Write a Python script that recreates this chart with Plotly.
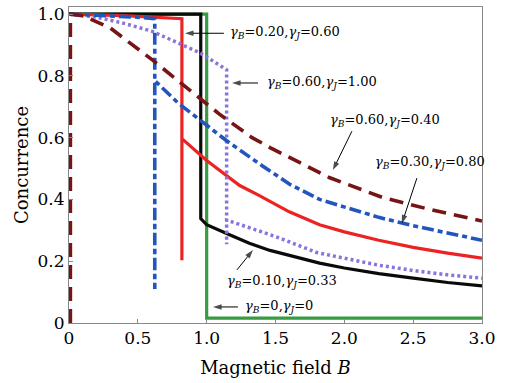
import plotly.graph_objects as go

# ---- data ----
green_x = [0.0, 1.0, 1.0, 3.0]
green_y = [1.0, 1.0, 0.016, 0.016]

black_x = [0.0, 0.5, 0.957, 0.957, 1.0, 1.145, 1.31, 1.46, 1.65, 1.82, 2.0, 2.25, 2.5, 2.75, 3.0]
black_y = [1.0, 1.0, 1.0, 0.338, 0.318, 0.29, 0.258, 0.235, 0.212, 0.194, 0.178, 0.16, 0.145, 0.131, 0.12]

red_x = [0.0, 0.4, 0.82, 0.82, 0.82, 1.0, 1.24, 1.38, 1.6, 1.82, 2.0, 2.25, 2.5, 2.75, 3.0]
red_y = [1.0, 0.995, 0.985, 0.203, 0.597, 0.526, 0.445, 0.413, 0.36, 0.318, 0.295, 0.268, 0.245, 0.226, 0.21]

blue_x = [0.0, 0.3, 0.5, 0.623, 0.623, 0.623, 0.79, 1.0, 1.145, 1.4, 1.6, 1.82, 2.0, 2.25, 2.5, 2.75, 3.0]
blue_y = [1.0, 0.995, 0.99, 0.985, 0.11, 0.785, 0.713, 0.64, 0.59, 0.51, 0.45, 0.40, 0.375, 0.342, 0.315, 0.29, 0.268]

purple_x = [0.0, 0.2, 0.4, 0.6, 0.8, 0.95, 1.145, 1.145, 1.145, 1.3, 1.5, 1.8, 2.0, 2.25, 2.5, 2.75, 3.0]
purple_y = [1.0, 0.99, 0.97, 0.945, 0.905, 0.875, 0.82, 0.255, 0.333, 0.31, 0.28, 0.228, 0.21, 0.187, 0.17, 0.156, 0.145]

darkred_x = [0.01, 0.01, 0.1, 0.3, 0.61, 0.83, 1.09, 1.33, 1.46, 1.89, 2.13, 2.28, 2.6, 3.0]
darkred_y = [0.0, 1.0, 0.995, 0.955, 0.85, 0.77, 0.677, 0.60, 0.568, 0.471, 0.43, 0.406, 0.37, 0.33]

x_ticks = [0, 0.5, 1.0, 1.5, 2.0, 2.5, 3.0]
x_tick_text = ["0", "0.5", "1.0", "1.5", "2.0", "2.5", "3.0"]
y_ticks = [0, 0.2, 0.4, 0.6, 0.8, 1.0]
y_tick_text = ["0", "0.2", "0.4", "0.6", "0.8", "1.0"]

labels = [
    "<i>γ</i><sub><i>B</i></sub>=0.20,<i>γ</i><sub><i>J</i></sub>=0.60",
    "<i>γ</i><sub><i>B</i></sub>=0.60,<i>γ</i><sub><i>J</i></sub>=1.00",
    "<i>γ</i><sub><i>B</i></sub>=0.60,<i>γ</i><sub><i>J</i></sub>=0.40",
    "<i>γ</i><sub><i>B</i></sub>=0.30,<i>γ</i><sub><i>J</i></sub>=0.80",
    "<i>γ</i><sub><i>B</i></sub>=0.10,<i>γ</i><sub><i>J</i></sub>=0.33",
    "<i>γ</i><sub><i>B</i></sub>=0,<i>γ</i><sub><i>J</i></sub>=0",
]
# label anchor positions (data coords), arrow tail and head positions
label_pos = [(1.155, 0.942), (1.424, 0.777), (1.88, 0.657), (2.208, 0.518), (1.133, 0.133), (1.264, 0.052)]
arrow_tail = [(1.125, 0.938), (1.373, 0.777), (2.055, 0.621), (2.527, 0.469), (1.22, 0.172), (1.227, 0.052)]
arrow_head = [(0.842, 0.938), (1.184, 0.777), (1.917, 0.495), (2.418, 0.322), (1.336, 0.236), (1.046, 0.052)]

FONT = "DejaVu Serif"

fig = go.Figure()
fig.add_trace(go.Scatter(x=green_x, y=green_y, mode="lines",
                         line=dict(color="rgb(55,155,65)", width=3.2)))
fig.add_trace(go.Scatter(x=black_x, y=black_y, mode="lines",
                         line=dict(color="rgb(10,10,10)", width=3.2)))
fig.add_trace(go.Scatter(x=red_x, y=red_y, mode="lines",
                         line=dict(color="rgb(235,35,35)", width=3.2)))
fig.add_trace(go.Scatter(x=purple_x, y=purple_y, mode="lines",
                         line=dict(color="rgb(140,115,220)", width=3.5, dash="3px,3px")))
fig.add_trace(go.Scatter(x=blue_x, y=blue_y, mode="lines",
                         line=dict(color="rgb(35,85,190)", width=3.6, dash="12px,4px,5px,4px")))
fig.add_trace(go.Scatter(x=darkred_x, y=darkred_y, mode="lines",
                         line=dict(color="rgb(120,20,20)", width=3.6, dash="14px,8px")))

# arrows as line+arrowhead traces
for (tx, ty), (hx, hy) in zip(arrow_tail, arrow_head):
    fig.add_trace(go.Scatter(x=[tx, hx], y=[ty, hy], mode="lines+markers",
                             line=dict(color="black", width=1),
                             marker=dict(symbol="arrow", size=[0, 9], color="black",
                                         angleref="previous", line=dict(width=0)),
                             hoverinfo="skip"))

annots = []
for txt, (lx, ly) in zip(labels, label_pos):
    annots.append(dict(x=lx, y=ly, xref="x", yref="y", text=txt, showarrow=False,
                       xanchor="left", yanchor="middle",
                       font=dict(family=FONT, size=13, color="black")))

fig.update_layout(
    width=507, height=383,
    margin=dict(l=69, r=25, t=7, b=60),
    paper_bgcolor="white", plot_bgcolor="white",
    showlegend=False,
    font=dict(family=FONT, size=17, color="black"),
    annotations=annots,
)
fig.update_xaxes(range=[0, 3.0], tickvals=x_ticks, ticktext=x_tick_text,
                 ticks="inside", ticklen=4, tickcolor="#888", showgrid=False, zeroline=False,
                 showline=True, mirror=True, linecolor="#888", linewidth=1,
                 tickfont=dict(family=FONT, size=17), automargin=False,
                 title=dict(text="Magnetic field <i>B</i>", font=dict(family=FONT, size=18), standoff=13))
fig.update_yaxes(range=[0, 1.023], tickvals=y_ticks, ticktext=y_tick_text,
                 ticks="inside", ticklen=4, tickcolor="#888", showgrid=False, zeroline=False,
                 showline=True, mirror=True, linecolor="#888", linewidth=1,
                 tickfont=dict(family=FONT, size=17), automargin=False,
                 title=dict(text="Concurrence", font=dict(family=FONT, size=18), standoff=4))

fig.write_html("out.html", config={"displayModeBar": False},
               post_script="document.body.style.margin='0px';")
